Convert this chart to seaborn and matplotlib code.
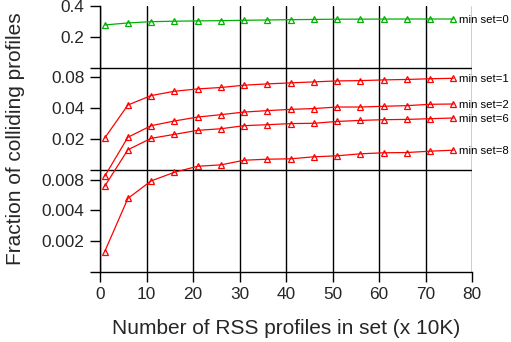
import matplotlib
matplotlib.use("Agg")
import matplotlib.pyplot as plt
import seaborn as sns
import pandas as pd
import numpy as np

x_vals = [1, 6, 11, 16, 21, 26, 31, 36, 41, 46, 51, 56, 61, 66, 71, 76]
set0 = [0.261, 0.273, 0.281, 0.284, 0.286, 0.2875, 0.290, 0.292, 0.294, 0.2955, 0.297, 0.2975, 0.298, 0.2985, 0.2985, 0.2985]
set1 = [0.0204, 0.0430, 0.0532, 0.0586, 0.0618, 0.0638, 0.0672, 0.0692, 0.0708, 0.0724, 0.0740, 0.0745, 0.0757, 0.0765, 0.0777, 0.0785]
set2 = [0.00863, 0.0208, 0.0270, 0.0300, 0.0328, 0.0346, 0.0367, 0.0379, 0.0390, 0.0397, 0.0411, 0.0411, 0.0418, 0.0424, 0.0437, 0.0440]
set6 = [0.00689, 0.0157, 0.0203, 0.0222, 0.0243, 0.0252, 0.0270, 0.0276, 0.0283, 0.0285, 0.0297, 0.0304, 0.0309, 0.0311, 0.0316, 0.0321]
set8 = [0.00158, 0.00525, 0.00778, 0.00945, 0.01082, 0.01117, 0.01240, 0.01269, 0.0128, 0.01339, 0.0137, 0.01433, 0.01466, 0.01475, 0.0152, 0.01555]

series_names = ["min set=0", "min set=1", "min set=2", "min set=6", "min set=8"]
series_vals = [set0, set1, set2, set6, set8]
series_colors = ["#00b000", "#ff0000", "#ff0000", "#ff0000", "#ff0000"]

ytick_vals = [0.001, 0.002, 0.004, 0.008, 0.01, 0.02, 0.04, 0.08, 0.1, 0.2, 0.4]
ytick_labels = ["", "0.002", "0.004", "0.008", "", "0.02", "0.04", "0.08", "", "0.2", "0.4"]
xtick_vals = [0, 10, 20, 30, 40, 50, 60, 70, 80]

sns.set_style("white")
plt.rcParams['font.family'] = ['Liberation Sans', 'DejaVu Sans']

fig = plt.figure(figsize=(5.11, 3.42), dpi=100)
ax = fig.add_axes([100/511, 1 - 272/342, 372/511, 266/342])

rows = []
for name, vals in zip(series_names, series_vals):
    for xv, yv in zip(x_vals, vals):
        rows.append({"x": xv, "y": yv, "series": name})
df = pd.DataFrame(rows)

for name, color in zip(series_names, series_colors):
    sub = df[df["series"] == name]
    sns.lineplot(data=sub, x="x", y="y", ax=ax, color=color, linewidth=0.9,
                 marker="^", markersize=5, markerfacecolor="none",
                 markeredgecolor=color, markeredgewidth=0.9, legend=False)
    ax.text(77.3, sub["y"].iloc[-1] * 0.98, name, fontsize=8.2, va="center",
            ha="left", color="black", clip_on=False, zorder=5)

ax.set_yscale("log")
ax.set_ylim(0.001, 0.4)
ax.set_xlim(0, 80)
ax.set_yticks(ytick_vals)
ax.set_yticklabels(ytick_labels)
ax.yaxis.set_minor_locator(matplotlib.ticker.NullLocator())
ax.set_xticks(xtick_vals)
ax.set_xticklabels([str(v) for v in xtick_vals])

for yl in [0.01, 0.1]:
    ax.axhline(yl, color="black", linewidth=1.0, zorder=1)
ax.grid(axis="x", color="black", linewidth=1.0)
ax.grid(axis="y", visible=False)

for s in ["top", "right"]:
    ax.spines[s].set_visible(False)
for s in ["left", "bottom"]:
    ax.spines[s].set_color("black")
    ax.spines[s].set_linewidth(1.0)

ax.tick_params(axis="both", which="major", direction="out", length=7, width=1.0,
               color="black", labelsize=12.4, left=True, bottom=True, pad=4)

ax.set_xlabel("Number of RSS profiles in set (x 10K)", fontsize=15, labelpad=12)
ax.set_ylabel("Fraction of colliding profiles", fontsize=15, labelpad=12)

fig.savefig("out.png", dpi=100)
